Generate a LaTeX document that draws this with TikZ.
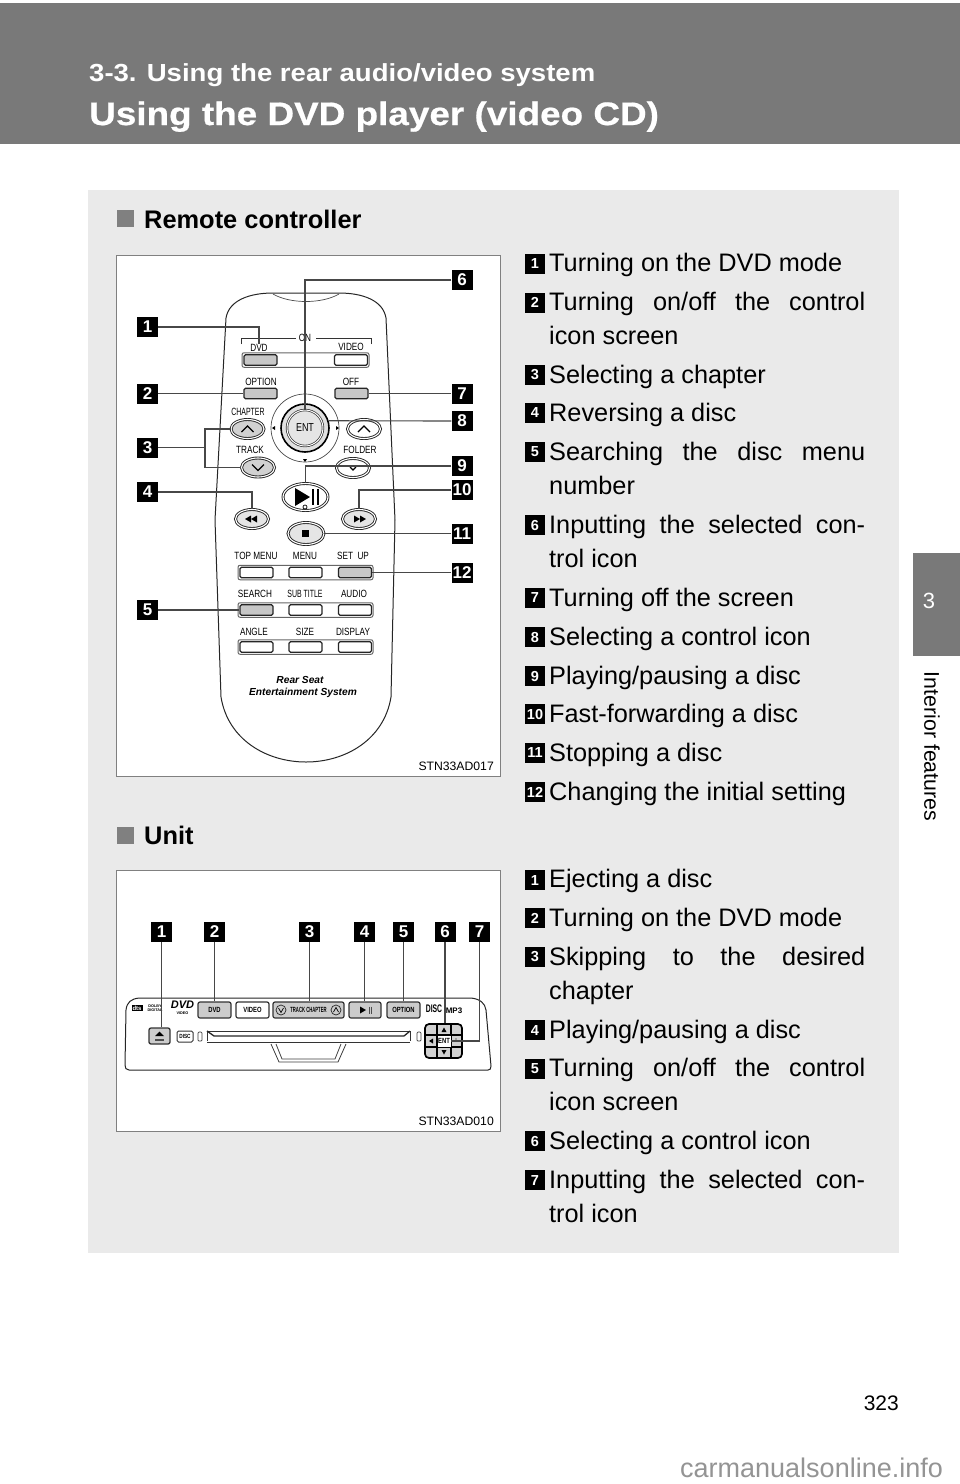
\documentclass[tikz,border=0pt]{standalone}
\usepackage{fontspec}
\setmainfont{Liberation Sans}
\newfontfamily\subfont[FakeStretch=1.115]{Liberation Sans}
\newfontfamily\titlefont[FakeStretch=1.135,FakeBold=.6]{Liberation Sans}
\newfontfamily\panelfont[FakeStretch=0.78]{Liberation Sans}
\usetikzlibrary{shapes.geometric}
\definecolor{headgray}{gray}{0.475}
\definecolor{panelgray}{gray}{0.918}
\tikzset{
	numbox/.style={fill=black, text=white, inner sep=0pt, minimum width=21pt, minimum height=20pt, font=\bfseries\fontsize{17}{17}\selectfont},
	listbox/.style={fill=black, text=white, inner sep=0pt, minimum size=20pt, font=\bfseries\fontsize{14.5}{15}\selectfont},
	itemtext/.style={anchor=base west, inner sep=0pt, font=\fontsize{25.3}{30}\selectfont},
	leader/.style={draw=black!72, line width=1.1pt},
	framebox/.style={draw=black!50, line width=1pt, fill=white},
	outline/.style={draw=black!85, line width=1pt},
	keylabel/.style={inner sep=0pt, font=\panelfont\fontsize{10.5}{11}\selectfont, text=black},
	striprow/.style={draw=black!60, line width=1pt, rounded corners=2pt, fill=white, inner sep=0pt, minimum width=135pt, minimum height=14.5pt},
	btn/.style={draw=black!85, line width=1.1pt, rounded corners=1.5pt, fill=white, inner sep=0pt, minimum width=33pt, minimum height=10.5pt},
	btnon/.style={btn, fill=black!22},
	oval/.style={ellipse, draw=black!85, line width=.9pt, double=white, double distance=1.1pt, fill=white, inner sep=0pt, minimum width=33pt, minimum height=19pt},
	ovalon/.style={oval, fill=black!18},
	unitbtn/.style={draw=black!80, line width=1.2pt, rounded corners=2pt, fill=black!20, inner sep=0pt, minimum height=16pt, font=\panelfont\bfseries\fontsize{7.5}{8}\selectfont},
	codetext/.style={anchor=base east, inner sep=0pt, font=\fontsize{12.2}{13}\selectfont},
}
\begin{document}
\begin{tikzpicture}[x=1pt, y=-1pt]
		\useasboundingbox (0,0) rectangle (960,1484);
		\fill[white] (0,0) rectangle (960,1484);
		\fill[headgray] (0,2.5) rectangle (960,144);
		\fill[panelgray] (88,190) rectangle (899.3,1253);
		\fill[headgray] (912.7,553) rectangle (960,656);
		\node[anchor=base west, inner sep=0pt, text=white, font=\subfont\bfseries\fontsize{24.7}{26}\selectfont] (section) at (89,81) {3-3. Using the rear audio/video system};
		\node[anchor=base west, inner sep=0pt, text=white, font=\titlefont\bfseries\fontsize{32.5}{34}\selectfont] (title) at (89,125) {Using the DVD player (video CD)};
		\node[text=white, inner sep=0pt, font=\fontsize{22}{22}\selectfont] (tabnum) at (929,601) {3};
		\node[rotate=-90, inner sep=0pt, font=\fontsize{21.3}{22}\selectfont] (tabtext) at (932,746.5) {Interior features};
		\node[anchor=base east, inner sep=0pt, font=\fontsize{21}{22}\selectfont] (page) at (899,1410) {323};
		\node[anchor=base west, inner sep=0pt, text=black!42, font=\fontsize{27}{28}\selectfont] (site) at (680,1477) {carmanualsonline.info};

		\fill[black!50] (117,210) rectangle (134,227);
		\node[anchor=base west, inner sep=0pt, font=\bfseries\fontsize{25.4}{30}\selectfont] (remotehead) at (144,228) {Remote controller};
		\fill[black!50] (117,827) rectangle (134,844);
		\node[anchor=base west, inner sep=0pt, font=\bfseries\fontsize{25.4}{30}\selectfont] (unithead) at (144,844) {Unit};

		\node[listbox] (l1) at (535,263.5) {1};
		\node[itemtext] (t1) at (549,271) {Turning on the DVD mode};
		\node[listbox] (l2) at (535,302.5) {2};
		\node[itemtext] (t2) at (549,310) {\makebox[316pt][s]{Turning on/off the control}};
		\node[itemtext] (t2b) at (549,344) {icon screen};
		\node[listbox] (l3) at (535,374.5) {3};
		\node[itemtext] (t3) at (549,383) {Selecting a chapter};
		\node[listbox] (l4) at (535,413) {4};
		\node[itemtext] (t4) at (549,421.5) {Reversing a disc};
		\node[listbox] (l5) at (535,452) {5};
		\node[itemtext] (t5) at (549,460.5) {\makebox[316pt][s]{Searching the disc menu}};
		\node[itemtext] (t5b) at (549,494.5) {number};
		\node[listbox] (l6) at (535,525) {6};
		\node[itemtext] (t6) at (549,533.5) {\makebox[316pt][s]{Inputting the selected con-}};
		\node[itemtext] (t6b) at (549,567.5) {trol icon};
		\node[listbox] (l7) at (535,598) {7};
		\node[itemtext] (t7) at (549,606) {Turning off the screen};
		\node[listbox] (l8) at (535,637) {8};
		\node[itemtext] (t8) at (549,645) {Selecting a control icon};
		\node[listbox] (l9) at (535,676) {9};
		\node[itemtext] (t9) at (549,684) {Playing/pausing a disc};
		\node[listbox] (l10) at (535,714) {10};
		\node[itemtext] (t10) at (549,722) {Fast-forwarding a disc};
		\node[listbox] (l11) at (535,753) {11};
		\node[itemtext] (t11) at (549,761) {Stopping a disc};
		\node[listbox] (l12) at (535,792) {12};
		\node[itemtext] (t12) at (549,800) {Changing the initial setting};

		\node[listbox] (m1) at (535,880) {1};
		\node[itemtext] (s1) at (549,887.5) {Ejecting a disc};
		\node[listbox] (m2) at (535,918) {2};
		\node[itemtext] (s2) at (549,926) {Turning on the DVD mode};
		\node[listbox] (m3) at (535,957) {3};
		\node[itemtext] (s3) at (549,965) {\makebox[316pt][s]{Skipping to the desired}};
		\node[itemtext] (s3b) at (549,999) {chapter};
		\node[listbox] (m4) at (535,1030) {4};
		\node[itemtext] (s4) at (549,1038) {Playing/pausing a disc};
		\node[listbox] (m5) at (535,1069) {5};
		\node[itemtext] (s5) at (549,1076.5) {\makebox[316pt][s]{Turning on/off the control}};
		\node[itemtext] (s5b) at (549,1110.5) {icon screen};
		\node[listbox] (m6) at (535,1141) {6};
		\node[itemtext] (s6) at (549,1149) {Selecting a control icon};
		\node[listbox] (m7) at (535,1180) {7};
		\node[itemtext] (s7) at (549,1188) {\makebox[316pt][s]{Inputting the selected con-}};
		\node[itemtext] (s7b) at (549,1222) {trol icon};

		\draw[framebox] (116,255) rectangle (500,776);
		\draw[framebox] (116,870) rectangle (500,1131);
		\node[codetext] (code1) at (494,770) {STN33AD017};
		\node[codetext] (code2) at (494,1125) {STN33AD010};

		\draw[outline] (226,318) .. controls (229,300) and (250,293) .. (273,293) -- (339,293) .. controls (362,293) and (383,300) .. (386,318) -- (395,520) -- (391,697) .. controls (384,740) and (345,762) .. (306,762) .. controls (267,762) and (228,740) .. (221,697) -- (215,520) -- cycle;
		\draw[black!70, line width=.7pt] (273,294) .. controls (290,304) and (322,304) .. (339,294);

		\node[keylabel] (onlabel) at (305,338) {ON};
		\draw[black!80, line width=.8pt] (241,344) -- (241,338) -- (296,338);
		\draw[black!80, line width=.8pt] (371,344) -- (371,338) -- (316,338);
		\node[keylabel] (dvdlabel) at (259,348) {DVD};
		\node[keylabel] (videolabel) at (351,347) {VIDEO};
		\node[striprow, minimum width=127pt] (dvdrow) at (305.5,360) {};
		\node[btnon] (dvdbtn) at (260.5,360) {};
		\node[btn] (videobtn) at (351,360) {};
		\node[keylabel] (optionlabel) at (261,382) {OPTION};
		\node[keylabel] (offlabel) at (351,382) {OFF};
		\node[btnon] (optionbtn) at (260.5,393.5) {};
		\node[btnon] (offbtn) at (351.5,393.5) {};

		\node[circle, draw=black!70, line width=.7pt, fill=white, inner sep=0pt, minimum size=68pt] (dialring) at (305,428) {};
		\node[circle, draw=black, line width=1.6pt, fill=black!12, inner sep=0pt, minimum size=48pt] (dial) at (305,428) {};
		\node[circle, draw=black!80, line width=.7pt, double=white, double distance=1pt, fill=black!10, inner sep=0pt, minimum size=36pt, font=\panelfont\fontsize{11.5}{12}\selectfont] (ent) at (305,428) {ENT};
		\fill[black] (272,428) -- (275,426) -- (275,430) -- cycle;
		\fill[black] (339,428) -- (336,426) -- (336,430) -- cycle;
		\fill[black] (305,462) -- (303,459) -- (307,459) -- cycle;

		\node[keylabel] (chapterlabel) at (248,412) {\scalebox{.85}[1]{CHAPTER}};
		\node[keylabel] (tracklabel) at (250,450) {TRACK};
		\node[keylabel] (folderlabel) at (360,450) {FOLDER};
		\node[ovalon] (chapterbtn) at (247.5,429) {};
		\node[ovalon] (trackbtn) at (258,467.5) {};
		\node[oval] (folderup) at (364,429) {};
		\node[oval] (folderdown) at (353,468) {};
		\draw[line width=1.1pt] (chapterbtn.center) ++(-6,3) -- ++(6,-6) -- ++(6,6);
		\draw[line width=1.1pt] (trackbtn.center) ++(-6,-3) -- ++(6,6) -- ++(6,-6);
		\draw[line width=1.1pt] (folderup.center) ++(-6,3) -- ++(6,-6) -- ++(6,6);
		\draw[line width=1.1pt] (folderdown.center) ++(-3,-1) -- ++(3,3) -- ++(3,-3);

		\node[oval, minimum width=45pt, minimum height=27pt] (playbtn) at (305.5,497) {};
		\fill[black] (295,488) -- (310,497) -- (295,506) -- cycle;
		\draw[line width=1.3pt] (313,489) -- (313,505);
		\draw[line width=1.3pt] (318,489) -- (318,505);
		\draw[line width=.7pt] (305,507) circle[radius=2];

		\node[ovalon, fill=black!10] (rewbtn) at (252,519) {};
		\fill[black] (245,519) -- (251,515.5) -- (251,522.5) -- cycle;
		\fill[black] (251,519) -- (257,515.5) -- (257,522.5) -- cycle;
		\node[ovalon, fill=black!10] (ffbtn) at (359,519) {};
		\fill[black] (366,519) -- (360,515.5) -- (360,522.5) -- cycle;
		\fill[black] (360,519) -- (354,515.5) -- (354,522.5) -- cycle;
		\node[ovalon, fill=black!10, minimum width=36pt, minimum height=22pt] (stopbtn) at (306,533.5) {};
		\fill[black] (302,530) rectangle (309,537);

		\node[keylabel] (toplabel) at (256,556) {TOP MENU};
		\node[keylabel] (menulabel) at (305,556) {MENU};
		\node[keylabel] (setuplabel) at (353,556) {SET\ \ UP};
		\node[striprow] (row1) at (305.5,572.5) {};
		\node[btn] (topbtn) at (256.5,572.5) {};
		\node[btn] (menubtn) at (305.5,572.5) {};
		\node[btnon] (setupbtn) at (355,572.5) {};

		\node[keylabel] (searchlabel) at (255,594) {SEARCH};
		\node[keylabel] (sublabel) at (305,594) {\scalebox{.85}[1]{SUB TITLE}};
		\node[keylabel] (audiolabel) at (354,594) {AUDIO};
		\node[striprow] (row2) at (305.5,610) {};
		\node[btnon] (searchbtn) at (256.5,610) {};
		\node[btn] (subbtn) at (305.5,610) {};
		\node[btn] (audiobtn) at (355,610) {};

		\node[keylabel] (anglelabel) at (254,632) {ANGLE};
		\node[keylabel] (sizelabel) at (305,632) {SIZE};
		\node[keylabel] (displaylabel) at (353,632) {DISPLAY};
		\node[striprow] (row3) at (305.5,647) {};
		\node[btn] (anglebtn) at (256.5,647) {};
		\node[btn] (sizebtn) at (305.5,647) {};
		\node[btn] (displaybtn) at (355,647) {};

		\node[inner sep=0pt, font=\bfseries\itshape\fontsize{10.2}{11}\selectfont] (rearseat) at (300,680) {Rear Seat};
		\node[inner sep=0pt, font=\bfseries\itshape\fontsize{10.2}{11}\selectfont] (entertain) at (303,693) {Entertainment System};

		\node[numbox] (r1) at (147.5,327) {1};
		\node[numbox] (r2) at (147.5,393.5) {2};
		\node[numbox] (r3) at (147.5,447.5) {3};
		\node[numbox] (r4) at (147.5,492) {4};
		\node[numbox] (r5) at (147.5,610) {5};
		\node[numbox] (r6) at (462,280) {6};
		\node[numbox] (r7) at (462,393.5) {7};
		\node[numbox] (r8) at (462,421) {8};
		\node[numbox] (r9) at (462,466) {9};
		\node[numbox] (r10) at (462,490) {10};
		\node[numbox] (r11) at (462,533.5) {11};
		\node[numbox] (r12) at (462,572.5) {12};
		\coordinate (fork) at (205,447.5);
		\draw[leader] (r1.east) -| (dvdlabel.north);
		\draw[leader] (r2.east) -- (optionbtn.west);
		\draw[leader] (r3.east) -- (fork);
		\draw[leader] (chapterbtn.west) -| (fork) |- (trackbtn.west);
		\draw[leader] (r4.east) -| (rewbtn.north);
		\draw[leader] (r5.east) -- (searchbtn.west);
		\draw[leader] (r6.west) -| (ent.north);
		\draw[leader] (r7.west) -- (offbtn.east);
		\draw[leader] (r8.west) -- (dial.17);
		\draw[leader] (r9.west) -| (playbtn.north);
		\draw[leader] (r10.west) -| (ffbtn.north);
		\draw[leader] (r11.west) -- (stopbtn.east);
		\draw[leader] (r12.west) -- (setupbtn.east);

		\draw[black!85, line width=1pt] (139,998) -- (471,998) .. controls (480,999) and (485,1003) .. (486,1010) -- (491,1066) .. controls (491,1069) and (490,1070) .. (488,1070) -- (129,1070) .. controls (126,1070) and (125,1068) .. (125,1065) -- (126,1010) .. controls (127,1002) and (131,999) .. (139,998);

		\node[fill=black, text=white, inner sep=1pt, font=\bfseries\fontsize{6}{6}\selectfont] (dtslogo) at (137,1008) {dts};
		\node[inner sep=0pt, align=center, font=\bfseries\fontsize{3.8}{4.5}\selectfont] (dolbylogo) at (155,1008) {DOLBY\\DIGITAL};
		\node[inner sep=0pt, font=\bfseries\itshape\fontsize{11}{11}\selectfont] (dvdlogo) at (182.5,1005) {DVD};
		\node[inner sep=0pt, font=\bfseries\fontsize{3.8}{4}\selectfont] (videologo) at (182.5,1013.5) {VIDEO};
		\node[unitbtn, minimum width=33pt] (udvd) at (214.5,1010) {DVD};
		\node[unitbtn, minimum width=33pt, fill=white] (uvideo) at (252.5,1010) {VIDEO};
		\node[unitbtn, minimum width=71pt] (utrack) at (308.5,1010) {\scalebox{.72}[1]{TRACK CHAPTER}};
		\node[unitbtn, minimum width=32pt] (uplay) at (365,1010) {};
		\fill[black] (360,1006.5) -- (366,1010) -- (360,1013.5) -- cycle;
		\draw[black!70, line width=.7pt] (369,1006.5) -- (369,1013.5);
		\draw[black!70, line width=.7pt] (371,1006.5) -- (371,1013.5);
		\node[unitbtn, minimum width=33pt] (uoption) at (403.5,1010) {OPTION};
		\node[circle, draw=black!85, line width=.7pt, inner sep=0pt, minimum size=10pt] (uleft) at (281,1010) {};
		\draw[line width=.7pt] (uleft.center) ++(-2.5,-2) -- ++(2.5,4.5) -- ++(2.5,-4.5);
		\node[circle, draw=black!85, line width=.7pt, inner sep=0pt, minimum size=10pt] (uright) at (336,1010) {};
		\draw[line width=.7pt] (uright.center) ++(-2.5,2) -- ++(2.5,-4.5) -- ++(2.5,4.5);
		\node[inner sep=0pt, font=\bfseries\fontsize{11}{11}\selectfont] (disclogo) at (434,1009) {\scalebox{.62}[1]{DISC}};
		\node[inner sep=0pt, font=\bfseries\fontsize{8}{8}\selectfont] (mplogo) at (454,1011) {MP3};

		\node[unitbtn, minimum width=21pt, line width=1.3pt] (eject) at (159.5,1036) {};
		\fill[black] (155,1036) -- (159.5,1031.5) -- (164,1036) -- cycle;
		\fill[black!70] (155,1038.5) rectangle (164,1040.5);
		\node[draw=black!80, line width=1pt, rounded corners=1.5pt, fill=white, inner sep=0pt, minimum width=16pt, minimum height=11pt, font=\panelfont\bfseries\fontsize{6}{6}\selectfont] (discbtn) at (185,1036.5) {DISC};

		\draw[black!75, line width=.7pt, rounded corners=1pt] (198,1032) rectangle (202,1041);
		\draw[black!75, line width=.7pt, rounded corners=1pt] (417,1032) rectangle (421,1041);
		\draw[black!80, line width=.9pt] (207,1041) -- (207,1031) -- (410,1031) -- (410,1041);
		\draw[black!85, line width=1.3pt] (207,1031) -- (214,1036) -- (404,1036) -- (410,1031);
		\draw[black!80, line width=.8pt] (207,1042) -- (410,1042);
		\draw[black!75, line width=.8pt] (271,1044) -- (279,1062) -- (338,1062) -- (346,1044);
		\draw[black!75, line width=.8pt] (276,1044) -- (282,1059) -- (335,1059) -- (341,1044);

		\node[draw=black, line width=1.7pt, rounded corners=4pt, fill=black!18, inner sep=0pt, minimum width=37pt, minimum height=34pt] (dpad) at (443.5,1041) {};
		\draw[black, line width=1.1pt] (437,1025) -- (437,1057);
		\draw[black, line width=1.1pt] (451,1025) -- (451,1057);
		\draw[black, line width=1.1pt] (426,1035) -- (462,1035);
		\draw[black, line width=1.1pt] (426,1047) -- (462,1047);
		\node[draw=black, line width=.8pt, fill=white, inner sep=0pt, minimum width=14pt, minimum height=12pt, font=\panelfont\bfseries\fontsize{7.5}{8}\selectfont] (uent) at (444,1041) {ENT};
		\fill[black] (444,1027.5) -- (441.5,1032) -- (446.5,1032) -- cycle;
		\fill[black] (444,1054.5) -- (441.5,1050) -- (446.5,1050) -- cycle;
		\fill[black] (429,1041) -- (433,1038.5) -- (433,1043.5) -- cycle;
		\fill[black] (456,1039) circle[radius=.6];

		\node[numbox] (u1) at (161.5,932) {1};
		\node[numbox] (u2) at (214.5,932) {2};
		\node[numbox] (u3) at (309.5,932) {3};
		\node[numbox] (u4) at (364.5,932) {4};
		\node[numbox] (u5) at (403.5,932) {5};
		\node[numbox] (u6) at (445,932) {6};
		\node[numbox] (u7) at (479.5,932) {7};
		\draw[leader] (u1.south) -- (u1.south |- eject.north);
		\draw[leader] (u2.south) -- (udvd.north);
		\draw[leader] (u3.south) -- (u3.south |- utrack.north);
		\draw[leader] (u4.south) -- (u4.south |- uplay.north);
		\draw[leader] (u5.south) -- (uoption.north);
		\draw[leader] (u6.south) -- (u6.south |- dpad.north);
		\draw[leader] (u7.south) |- (uent.east);
		\end{tikzpicture}
\end{document}
